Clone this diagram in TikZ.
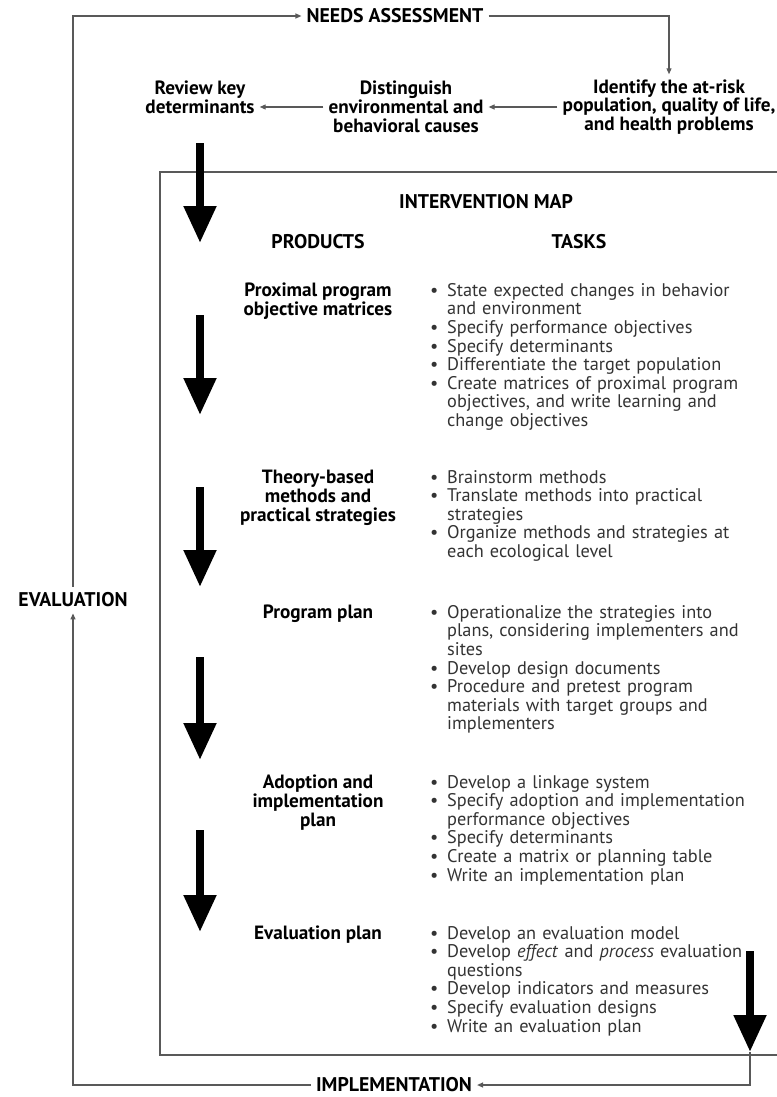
\documentclass[tikz,border=0pt]{standalone}
\usepackage{fontspec}
\setmainfont{PT Sans}
\usetikzlibrary{arrows.meta,positioning}

\definecolor{linegray}{gray}{0.35}
\definecolor{textgray}{gray}{0.2}
% bullet item with hanging indent
\newcommand{\itm}[1]{\noindent\hangindent=17pt\hangafter=1\makebox[17pt][l]{\textbullet}#1\par}

\begin{document}
\begin{tikzpicture}[x=1pt, y=-1pt,
  every node/.style={font=\fontsize{18.3}{18.6}\selectfont, inner sep=0pt},
  phase/.style={font=\fontsize{19.8}{20}\selectfont\bfseries, inner sep=5pt},
  stage/.style={font=\fontsize{19.2}{18.8}\selectfont\bfseries, align=center, inner sep=5pt},
  prod/.style={font=\fontsize{19.2}{18.8}\selectfont\bfseries, align=center, anchor=north},
  tasks/.style={text width=345pt, align=left, anchor=north west, text=textgray},
  flow/.style={draw=linegray, line width=1.2pt, -{Triangle[length=6pt,width=5pt]}},
  bigarrow/.style={line width=8pt, -{Triangle[length=37pt,width=31pt]}}]
  \useasboundingbox (0,0) rectangle (776,1097);

  % Needs assessment row
  \node[phase] (needs) at (395,16) {NEEDS ASSESSMENT};
  \node[stage] (identify) at (669,107) {Identify the at-risk\\population, quality of life,\\and health problems};
  \node[stage] (distinguish) at (406,107) {Distinguish\\environmental and\\behavioral causes};
  \node[stage] (review) at (200,97) {Review key\\determinants};
  \draw[flow] (needs.east) -| (identify.north);
  \draw[flow] (identify.west) -- (distinguish.east);
  \draw[flow] (distinguish.west) -- (review.east |- distinguish.west);

  % Intervention map frame
  \draw[draw=linegray, line width=1.5pt] (160,172) rectangle (790,1055);
  \node[phase] (imap) at (486,202) {INTERVENTION MAP};
  \node[phase] (products) at (318,242) {PRODUCTS};
  \node[phase] (taskhead) at (579,242) {TASKS};

  % Products and tasks
  \node[prod] (p1) at (318,283) {Proximal program\\objective matrices};
  \node[tasks] (t1) at (430,283) {\itm{State expected changes in behavior\newline and environment}
    \itm{Specify performance objectives}
    \itm{Specify determinants}
    \itm{Differentiate the target population}
    \itm{Create matrices of proximal program\newline objectives, and write learning and\newline change objectives}};

  \node[prod] (p2) at (318,470) {Theory-based\\methods and\\practical strategies};
  \node[tasks] (t2) at (430,470) {\itm{Brainstorm methods}
    \itm{Translate methods into practical\newline strategies}
    \itm{Organize methods and strategies at\newline each ecological level}};

  \node[prod] (p3) at (318,605) {Program plan};
  \node[tasks] (t3) at (430,605) {\itm{Operationalize the strategies into\newline plans, considering implementers and\newline sites}
    \itm{Develop design documents}
    \itm{Procedure and pretest program\newline materials with target groups and\newline implementers}};

  \node[prod] (p4) at (318,775) {Adoption and\\implementation\\plan};
  \node[tasks] (t4) at (430,775) {\itm{Develop a linkage system}
    \itm{Specify adoption and implementation\newline performance objectives}
    \itm{Specify determinants}
    \itm{Create a matrix or planning table}
    \itm{Write an implementation plan}};

  \node[prod] (p5) at (318,926) {Evaluation plan};
  \node[tasks] (t5) at (430,926) {\itm{Develop an evaluation model}
    \itm{Develop \emph{effect} and \emph{process} evaluation\newline questions}
    \itm{Develop indicators and measures}
    \itm{Specify evaluation designs}
    \itm{Write an evaluation plan}};

  % big downward arrows
  \foreach \ya/\yb in {143/243,315/415,487/587,657/760,830/932}
    \draw[bigarrow] (200,\ya) -- (200,\yb);
  \draw[bigarrow] (750,951) -- (750,1052);

  % Implementation / evaluation loop
  \coordinate (evtip) at (750,1052);
  \node[phase] (impl) at (394,1085) {IMPLEMENTATION};
  \node[phase, inner ysep=6pt] (eval) at (73,600) {EVALUATION};
  \draw[flow] (evtip) |- (impl.east);
  \draw[flow] (impl.west) -| (eval.south);
  \draw[flow] (eval.north) |- (needs.west);
\end{tikzpicture}
\end{document}
